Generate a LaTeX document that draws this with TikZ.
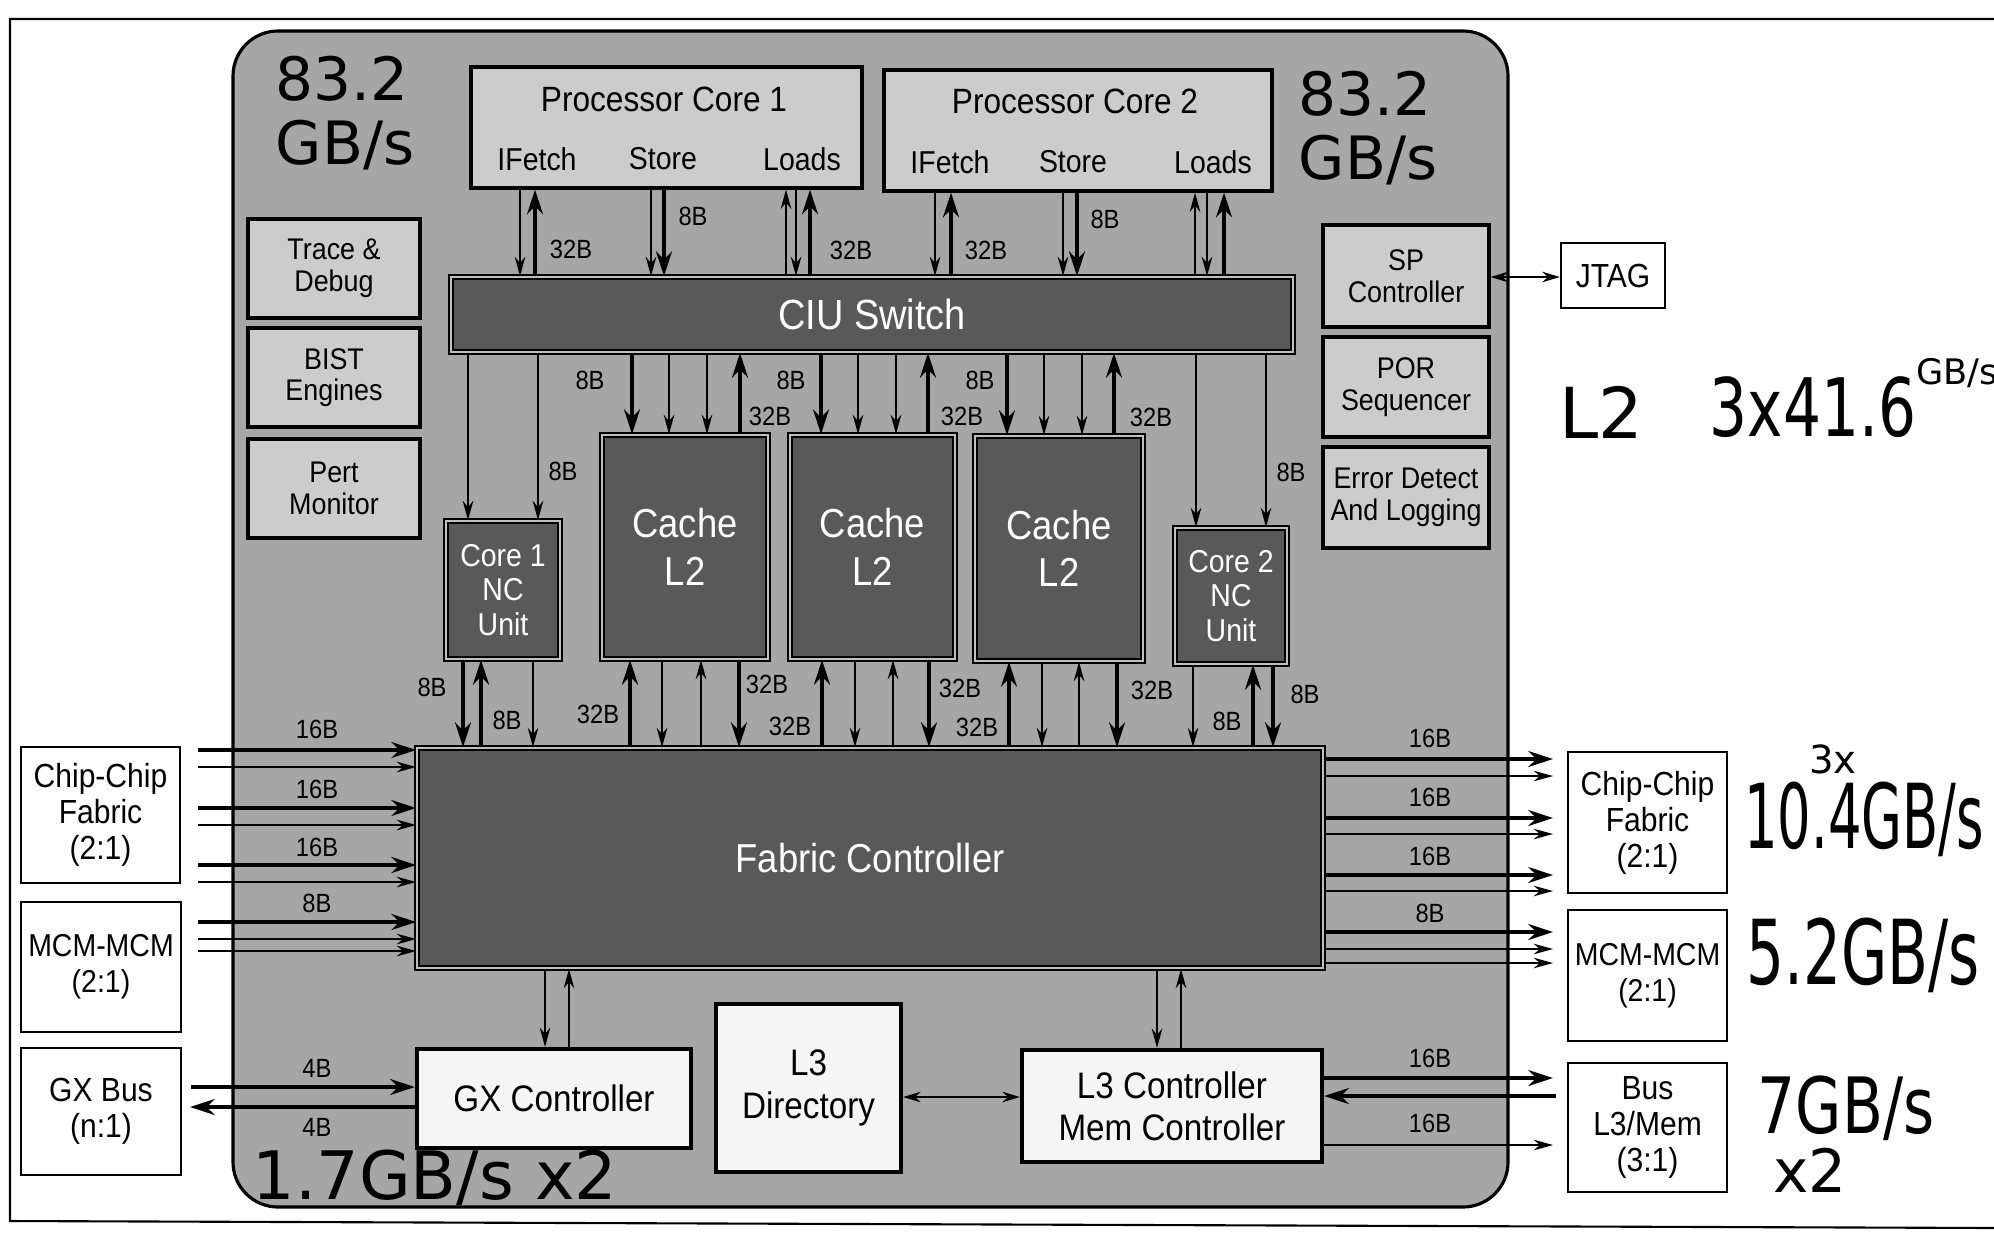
\documentclass[tikz,border=0pt]{standalone}
\usepackage{fontspec}
\setmainfont{Liberation Sans}[FakeStretch=0.9]
\newfontfamily\handfont{DejaVu Sans}
\usepackage{tikz}
\usetikzlibrary{arrows.meta}
\tikzset{%
	chip/.style = { draw=black, line width=0.9pt, fill=black!35, rounded corners=4.5mm },
	blk/.style = { draw=black, line width=0.9pt, fill=black!20, align=center, inner sep=1pt,
		font=\fontsize{8.5}{9}\selectfont },
	darkblk/.style = { draw=black, line width=0.5pt, double=black!25, double distance=0.7pt,
		fill=black!65, text=white, align=center, inner sep=1pt },
	whiteblk/.style = { draw=black, line width=1.2pt, fill=black!4, align=center, inner sep=1pt },
	ext/.style = { draw=black, line width=0.7pt, fill=white, align=center, inner sep=1pt,
		font=\fontsize{9.5}{10.2}\selectfont },
	pctxt/.style = { inner sep=0pt, font=\fontsize{9}{10}\selectfont },
	lbl/.style = { inner sep=0pt, font=\fontsize{7.5}{8}\selectfont },
	hand/.style = { inner sep=0pt, font=\handfont\fontsize{#1}{18}\selectfont },
	bus/.style = { line width=1.2pt, -{Stealth[length=7pt, width=4.5pt]} },
	wire/.style = { line width=0.6pt, -{Stealth[length=5.5pt, width=3pt]} },
	twoway/.style = { line width=0.6pt, {Stealth[length=5pt, width=3pt]}-{Stealth[length=5pt, width=3pt]} }
}

\begin{document}
\begin{tikzpicture}[x=0.1mm, y=-0.1mm]
	\useasboundingbox (0,0) rectangle (1994,1234);
	% page edge of the scan
	\draw[line width=0.6pt] (2000,19) -- (10,19) -- (10,1221) -- (2000,1228);

	% chip outline
	\node[chip, minimum width=127.5mm, minimum height=117.6mm] (chip) at (870.5,619) {};

	% processor cores
	\node[blk, minimum width=39.1mm, minimum height=12.1mm] (pcA) at (666.5,127.5) {};
	\node[blk, minimum width=38.8mm, minimum height=12.1mm] (pcB) at (1078,130.5) {};
	\node[pctxt, font=\fontsize{10}{12}\selectfont] (pcAname) at (664,99) {Processor Core 1};
	\node[pctxt, font=\fontsize{10}{12}\selectfont] (pcBname) at (1075,101) {Processor Core 2};
	\node[pctxt] (pcAfetch) at (537,159) {IFetch};
	\node[pctxt] (pcAstore) at (663,159) {Store};
	\node[pctxt] (pcAloads) at (802,159) {Loads};
	\node[pctxt] (pcBfetch) at (950,162) {IFetch};
	\node[pctxt] (pcBstore) at (1073,162) {Store};
	\node[pctxt] (pcBloads) at (1213,162) {Loads};

	% CIU switch
	\node[darkblk, minimum width=84.2mm, minimum height=7.5mm, font=\fontsize{12}{14}\selectfont] (ciu) at (872,314.5) {CIU Switch};

	% side units
	\node[blk, minimum width=17.2mm, minimum height=9.9mm] (trace) at (334,268.5) {Trace \&\\Debug};
	\node[blk, minimum width=17.2mm, minimum height=9.9mm] (bist) at (334,377.5) {BIST\\Engines};
	\node[blk, minimum width=17.2mm, minimum height=9.9mm] (pert) at (334,488.5) {Pert\\Monitor};
	\node[blk, minimum width=16.6mm, minimum height=10.2mm] (sp) at (1406,276) {SP\\Controller};
	\node[blk, minimum width=16.6mm, minimum height=10mm] (por) at (1406,387) {POR\\Sequencer};
	\node[blk, minimum width=16.6mm, minimum height=10.1mm] (err) at (1406,497.5) {Error Detect\\And Logging};
	\node[ext, minimum width=10.4mm, minimum height=6.5mm] (jtag) at (1613,275.5) {JTAG};

	% NC units and L2 slices
	\node[darkblk, minimum width=11.4mm, minimum height=13.8mm, font=\fontsize{9}{9.8}\selectfont] (ncA) at (503,590) {Core 1\\NC\\Unit};
	\node[darkblk, minimum width=16.6mm, minimum height=22.4mm, font=\fontsize{11.5}{13.5}\selectfont] (cacheA) at (685,547) {Cache\\L2};
	\node[darkblk, minimum width=16.5mm, minimum height=22.4mm, font=\fontsize{11.5}{13.5}\selectfont] (cacheB) at (872.5,547) {Cache\\L2};
	\node[darkblk, minimum width=16.8mm, minimum height=22.5mm, font=\fontsize{11.5}{13.5}\selectfont] (cacheC) at (1059,548.5) {Cache\\L2};
	\node[darkblk, minimum width=11.2mm, minimum height=13.6mm, font=\fontsize{9}{9.8}\selectfont] (ncB) at (1231,596) {Core 2\\NC\\Unit};

	% fabric controller
	\node[darkblk, minimum width=90.6mm, minimum height=22mm, font=\fontsize{11.5}{14}\selectfont] (fabric) at (870,858) {Fabric Controller};

	% lower controllers
	\node[whiteblk, minimum width=27.4mm, minimum height=9.9mm, font=\fontsize{10.5}{12}\selectfont] (gxc) at (554,1098.5) {GX Controller};
	\node[whiteblk, minimum width=18.5mm, minimum height=16.8mm, font=\fontsize{10.5}{12}\selectfont] (ldir) at (808.5,1088) {L3\\Directory};
	\node[whiteblk, minimum width=30mm, minimum height=11.2mm, font=\fontsize{10.5}{12}\selectfont] (lctl) at (1172,1106) {L3 Controller\\Mem Controller};

	% off-chip ports
	\node[ext, minimum width=15.9mm, minimum height=13.6mm] (ccfL) at (100.5,815) {Chip-Chip\\Fabric\\(2:1)};
	\node[ext, minimum width=16mm, minimum height=13mm, font=\fontsize{9}{10.2}\selectfont] (mcmL) at (101,967) {MCM-MCM\\(2:1)};
	\node[ext, minimum width=16mm, minimum height=12.7mm] (gxb) at (101,1111.5) {GX Bus\\(n:1)};
	\node[ext, minimum width=15.9mm, minimum height=14.1mm] (ccfR) at (1647.5,822.5) {Chip-Chip\\Fabric\\(2:1)};
	\node[ext, minimum width=15.9mm, minimum height=13.1mm, font=\fontsize{9}{10.2}\selectfont] (mcmR) at (1647.5,975.5) {MCM-MCM\\(2:1)};
	\node[ext, minimum width=15.9mm, minimum height=12.9mm] (busR) at (1647.5,1127.5) {Bus\\L3/Mem\\(3:1)};

	% core 1 <-> CIU
	\draw[wire] (520,0 |- pcA.south) -- (520,0 |- ciu.north);
	\draw[bus] (535,0 |- ciu.north) -- (535,0 |- pcA.south);
	\draw[wire] (651,0 |- pcA.south) -- (651,0 |- ciu.north);
	\draw[bus] (664,0 |- pcA.south) -- (664,0 |- ciu.north);
	\draw[wire] (786,0 |- ciu.north) -- (786,0 |- pcA.south);
	\draw[wire] (796,0 |- pcA.south) -- (796,0 |- ciu.north);
	\draw[bus] (810,0 |- ciu.north) -- (810,0 |- pcA.south);
	% core 2 <-> CIU
	\draw[wire] (935,0 |- pcB.south) -- (935,0 |- ciu.north);
	\draw[bus] (951,0 |- ciu.north) -- (951,0 |- pcB.south);
	\draw[wire] (1063,0 |- pcB.south) -- (1063,0 |- ciu.north);
	\draw[bus] (1077,0 |- pcB.south) -- (1077,0 |- ciu.north);
	\draw[wire] (1195,0 |- ciu.north) -- (1195,0 |- pcB.south);
	\draw[wire] (1207,0 |- pcB.south) -- (1207,0 |- ciu.north);
	\draw[bus] (1224,0 |- ciu.north) -- (1224,0 |- pcB.south);
	\node[lbl] (wA1) at (571,249) {32B};
	\node[lbl] (wA2) at (693,216) {8B};
	\node[lbl] (wA3) at (851,250) {32B};
	\node[lbl] (wB1) at (986,250) {32B};
	\node[lbl] (wB2) at (1105,219) {8B};

	% CIU -> NC units and L2
	\draw[wire] (468,0 |- ciu.south) -- (468,0 |- ncA.north);
	\draw[wire] (538,0 |- ciu.south) -- (538,0 |- ncA.north);
	\draw[bus] (632,0 |- ciu.south) -- (632,0 |- cacheA.north);
	\draw[wire] (669,0 |- ciu.south) -- (669,0 |- cacheA.north);
	\draw[wire] (707,0 |- ciu.south) -- (707,0 |- cacheA.north);
	\draw[bus] (740,0 |- cacheA.north) -- (740,0 |- ciu.south);
	\draw[bus] (821,0 |- ciu.south) -- (821,0 |- cacheB.north);
	\draw[wire] (858,0 |- ciu.south) -- (858,0 |- cacheB.north);
	\draw[wire] (896,0 |- ciu.south) -- (896,0 |- cacheB.north);
	\draw[bus] (928,0 |- cacheB.north) -- (928,0 |- ciu.south);
	\draw[bus] (1007,0 |- ciu.south) -- (1007,0 |- cacheC.north);
	\draw[wire] (1044,0 |- ciu.south) -- (1044,0 |- cacheC.north);
	\draw[wire] (1082,0 |- ciu.south) -- (1082,0 |- cacheC.north);
	\draw[bus] (1114,0 |- cacheC.north) -- (1114,0 |- ciu.south);
	\draw[wire] (1196,0 |- ciu.south) -- (1196,0 |- ncB.north);
	\draw[wire] (1266,0 |- ciu.south) -- (1266,0 |- ncB.north);
	\node[lbl] (uA1) at (590,380) {8B};
	\node[lbl] (uA2) at (563,471) {8B};
	\node[lbl] (uB1) at (791,380) {8B};
	\node[lbl] (uB2) at (770,416) {32B};
	\node[lbl] (uC1) at (980,380) {8B};
	\node[lbl] (uC2) at (962,416) {32B};
	\node[lbl] (uD1) at (1151,417) {32B};
	\node[lbl] (uD2) at (1291,472) {8B};

	% NC units and L2 <-> fabric controller
	\draw[bus] (463,0 |- ncA.south) -- (463,0 |- fabric.north);
	\draw[bus] (481,0 |- fabric.north) -- (481,0 |- ncA.south);
	\draw[wire] (533,0 |- ncA.south) -- (533,0 |- fabric.north);
	\draw[bus] (630,0 |- fabric.north) -- (630,0 |- cacheA.south);
	\draw[wire] (662,0 |- cacheA.south) -- (662,0 |- fabric.north);
	\draw[wire] (701,0 |- fabric.north) -- (701,0 |- cacheA.south);
	\draw[bus] (739,0 |- cacheA.south) -- (739,0 |- fabric.north);
	\draw[bus] (822,0 |- fabric.north) -- (822,0 |- cacheB.south);
	\draw[wire] (855,0 |- cacheB.south) -- (855,0 |- fabric.north);
	\draw[wire] (893,0 |- fabric.north) -- (893,0 |- cacheB.south);
	\draw[bus] (929,0 |- cacheB.south) -- (929,0 |- fabric.north);
	\draw[bus] (1009,0 |- fabric.north) -- (1009,0 |- cacheC.south);
	\draw[wire] (1042,0 |- cacheC.south) -- (1042,0 |- fabric.north);
	\draw[wire] (1079,0 |- fabric.north) -- (1079,0 |- cacheC.south);
	\draw[bus] (1117,0 |- cacheC.south) -- (1117,0 |- fabric.north);
	\draw[wire] (1193,0 |- ncB.south) -- (1193,0 |- fabric.north);
	\draw[bus] (1253,0 |- fabric.north) -- (1253,0 |- ncB.south);
	\draw[bus] (1273,0 |- ncB.south) -- (1273,0 |- fabric.north);
	\node[lbl] (dA1) at (432,687) {8B};
	\node[lbl] (dA2) at (507,720) {8B};
	\node[lbl] (dB1) at (598,714) {32B};
	\node[lbl] (dB2) at (767,684) {32B};
	\node[lbl] (dC1) at (790,726) {32B};
	\node[lbl] (dC2) at (960,688) {32B};
	\node[lbl] (dD1) at (977,727) {32B};
	\node[lbl] (dD2) at (1152,690) {32B};
	\node[lbl] (dE1) at (1227,721) {8B};
	\node[lbl] (dE2) at (1305,694) {8B};

	% inbound links
	\draw[bus] (198,750) -- (fabric.west |- 0,750);
	\draw[wire] (198,767) -- (fabric.west |- 0,767);
	\draw[bus] (198,808) -- (fabric.west |- 0,808);
	\draw[wire] (198,825) -- (fabric.west |- 0,825);
	\draw[bus] (198,865) -- (fabric.west |- 0,865);
	\draw[wire] (198,882) -- (fabric.west |- 0,882);
	\draw[bus] (198,922) -- (fabric.west |- 0,922);
	\draw[wire] (198,939) -- (fabric.west |- 0,939);
	\draw[wire] (198,951) -- (fabric.west |- 0,951);
	\node[lbl] (iA) at (317,729) {16B};
	\node[lbl] (iB) at (317,789) {16B};
	\node[lbl] (iC) at (317,847) {16B};
	\node[lbl] (iD) at (317,903) {8B};

	% outbound links
	\draw[bus] (fabric.east |- 0,759) -- (1553,759);
	\draw[wire] (fabric.east |- 0,776) -- (1553,776);
	\draw[bus] (fabric.east |- 0,818) -- (1553,818);
	\draw[wire] (fabric.east |- 0,834) -- (1553,834);
	\draw[bus] (fabric.east |- 0,875) -- (1553,875);
	\draw[wire] (fabric.east |- 0,891) -- (1553,891);
	\draw[bus] (fabric.east |- 0,932) -- (1553,932);
	\draw[wire] (fabric.east |- 0,949) -- (1553,949);
	\draw[wire] (fabric.east |- 0,963) -- (1553,963);
	\node[lbl] (oA) at (1430,738) {16B};
	\node[lbl] (oB) at (1430,797) {16B};
	\node[lbl] (oC) at (1430,856) {16B};
	\node[lbl] (oD) at (1430,913) {8B};

	% GX bus
	\draw[bus] (191,1087) -- (gxc.west |- 0,1087);
	\draw[bus] (gxc.west |- 0,1107) -- (190,1107);
	\node[lbl] (gA) at (317,1068) {4B};
	\node[lbl] (gB) at (317,1127) {4B};
	\draw[wire] (545,0 |- fabric.south) -- (545,0 |- gxc.north);
	\draw[wire] (569,0 |- gxc.north) -- (569,0 |- fabric.south);

	% L3 / memory
	\draw[wire] (1157,0 |- fabric.south) -- (1157,0 |- lctl.north);
	\draw[wire] (1181,0 |- lctl.north) -- (1181,0 |- fabric.south);
	\draw[twoway] (ldir.east |- 0,1097) -- (lctl.west |- 0,1097);
	\draw[bus] (lctl.east |- 0,1078) -- (1553,1078);
	\draw[bus] (1556,1096) -- (lctl.east |- 0,1096);
	\draw[wire] (lctl.east |- 0,1145) -- (1553,1145);
	\node[lbl] (mA) at (1430,1058) {16B};
	\node[lbl] (mB) at (1430,1123) {16B};

	% service processor
	\draw[twoway] (sp.east |- 0,277) -- (jtag.west |- 0,277);

	% handwritten bandwidth notes
	\node[hand=17, align=left] (bwA) at (345,113) {83.2\\GB/s};
	\node[hand=17, align=left] (bwB) at (1368,128) {83.2\\GB/s};
	\node[hand=20] (bwL1) at (1601,412) {L2};
	\node[hand=17, anchor=west] (bwL2) at (1709,398) {\scalebox{1}[1.35]{3x41.6}\raisebox{1.6ex}{\fontsize{10}{10}\selectfont GB/s}};
	\node[hand=11] (bwC1) at (1833,759) {3x};
	\node[hand=15] (bwC2) at (1864,819) {\scalebox{1}[1.7]{10.4GB/s}};
	\node[hand=17] (bwM) at (1863,955) {\scalebox{1}[1.5]{5.2GB/s}};
	\node[hand=17] (bwS1) at (1846,1108) {\scalebox{1}[1.3]{7GB/s}};
	\node[hand=17] (bwS2) at (1810,1170) {x2};
	\node[hand=19] (bwG) at (435,1178) {1.7GB/s x2};
\end{tikzpicture}
\end{document}
